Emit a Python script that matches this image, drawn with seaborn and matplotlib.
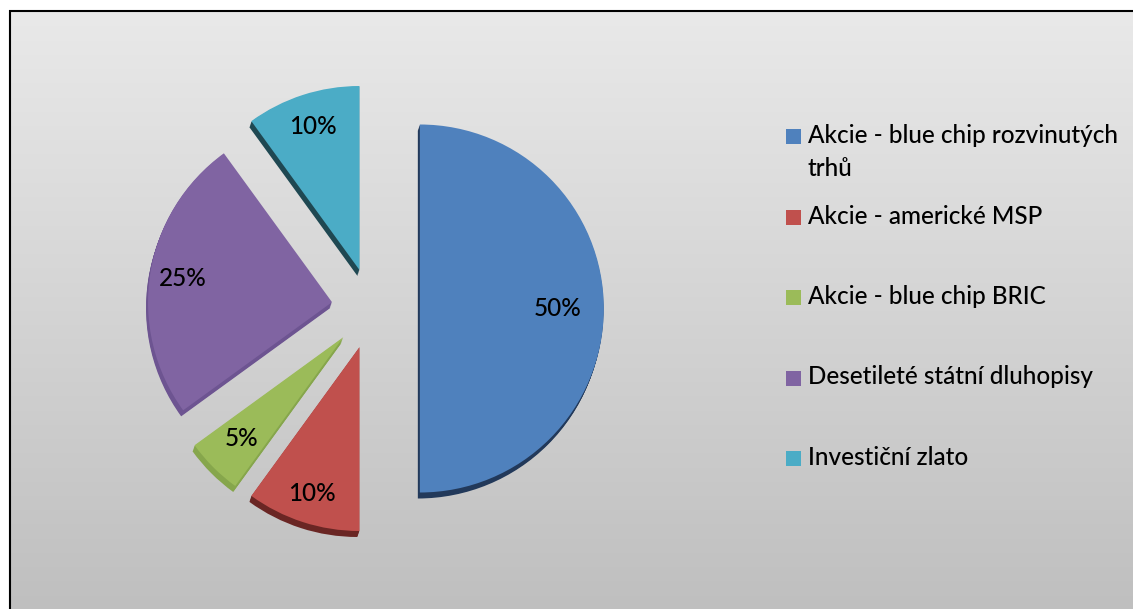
import textwrap
import numpy as np
import matplotlib
matplotlib.use("Agg")
import matplotlib.pyplot as plt
from matplotlib.colors import LinearSegmentedColormap
from matplotlib.patches import Rectangle
import seaborn as sns

# Portfolio allocation
categories = [
    "Akcie - blue chip rozvinutých trhů",
    "Akcie - americké MSP",
    "Akcie - blue chip BRIC",
    "Desetileté státní dluhopisy",
    "Investiční zlato",
]
shares = [50, 10, 5, 25, 10]

# Styling
explode = [0.26, 0.22, 0.22, 0.22, 0.22]
face_colors = ["#4f81bd", "#c0504d", "#9bbb59", "#8064a2", "#4bacc6"]
side_colors = ["#22395a", "#6a2624", "#86a64c", "#6d5491", "#1f4852"]
label_dist = [0.75, 0.84, 0.78, 0.82, 0.82]

sns.set_theme(style="white")
plt.rcParams["font.family"] = ["Lato", "DejaVu Sans"]
FS = 17.5
FW = "medium"

W, H = 1133, 609
fig = plt.figure(figsize=(W / 100, H / 100), dpi=100)
fig.patch.set_facecolor("white")

# Background panel with vertical gradient and frame
bg = fig.add_axes([0, 0, 1, 1])
bg.set_xlim(0, W)
bg.set_ylim(H, 0)
bg.axis("off")
grad = np.linspace(0, 1, 256)[:, None]
cmap = LinearSegmentedColormap.from_list("panel", ["#e9e9e9", "#bfbfbf"])
bg.imshow(grad, cmap=cmap, extent=(10, W + 2, H + 2, 11), aspect="auto",
          interpolation="bilinear")
bg.plot([8.5, 8.5], [12, H + 5], color="#d0d0d0", lw=0.8)
bg.plot([10, 10], [10, H + 5], color="black", lw=1.5, solid_capstyle="butt")
bg.plot([9, W + 5], [11, 11], color="black", lw=1.5, solid_capstyle="butt")
bg.set_xlim(0, W)
bg.set_ylim(H, 0)

# Legend (wrapped labels, one text per line)
line_gap = 33
for i, (lab, col) in enumerate(zip(categories, face_colors)):
    base = 143 + 80.5 * i
    bg.add_patch(Rectangle((786, base - 14), 15, 15, color=col, lw=0))
    for j, line in enumerate(textwrap.wrap(lab, 29)):
        bg.text(808, base + j * line_gap, line, va="baseline", ha="left",
                fontsize=FS, fontweight=FW, color="black")

# Exploded pie with extruded sides
ax = fig.add_axes([0, 0, 1, 1])
ax.patch.set_alpha(0)
R = 184.0
cx, cy = 372.0, 308.5
layers = 6
for k in range(layers, 0, -1):
    ax.pie(shares, explode=explode, colors=side_colors, startangle=90,
           counterclock=False,
           center=(-2.0 * k / layers / R, -6.0 * k / layers / R),
           wedgeprops=dict(linewidth=0))
wedges, _, autotexts = ax.pie(
    shares, explode=explode, colors=face_colors, startangle=90,
    counterclock=False, autopct="%.0f%%", pctdistance=0.8,
    textprops=dict(fontsize=FS, fontweight=FW, color="black"),
    wedgeprops=dict(linewidth=0))
for w, t, d in zip(wedges, autotexts, label_dist):
    mid = np.deg2rad((w.theta1 + w.theta2) / 2)
    x0, y0 = w.center
    t.set_position((x0 + d * w.r * np.cos(mid), y0 + d * w.r * np.sin(mid)))
ax.set_xlim(-cx / R, (W - cx) / R)
ax.set_ylim(-(H - cy) / R, cy / R)
ax.set_aspect("auto")

fig.savefig("out.png", dpi=100)
